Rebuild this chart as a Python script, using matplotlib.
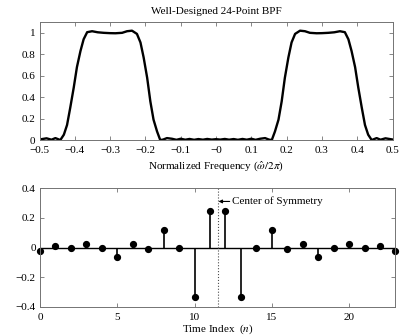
import matplotlib
matplotlib.use('Agg')
import matplotlib.pyplot as plt
from matplotlib.ticker import FuncFormatter
import numpy as np

plt.rcParams['font.family'] = ['Liberation Serif', 'DejaVu Serif']
plt.rcParams['mathtext.fontset'] = 'stix'
plt.rcParams['font.size'] = 8

# magnitude response (positive half; |H| is even)
freq_pos = [0.000, 0.012, 0.025, 0.037, 0.050, 0.062, 0.075, 0.087, 0.100, 0.112,
            0.125, 0.139, 0.150, 0.158, 0.167, 0.177, 0.186, 0.195, 0.205, 0.214,
            0.224, 0.238, 0.252, 0.266, 0.285, 0.300, 0.318, 0.335, 0.351, 0.365,
            0.375, 0.384, 0.394, 0.403, 0.413, 0.422, 0.431, 0.441, 0.455, 0.466,
            0.480, 0.500]
mag_pos = [0.008, 0.004, 0.010, 0.003, 0.009, 0.002, 0.010, 0.003, 0.012, 0.002,
           0.012, 0.018, 0.004, 0.000, 0.080, 0.190, 0.360, 0.580, 0.770, 0.910,
           0.990, 1.020, 1.015, 1.000, 0.996, 0.997, 1.000, 1.005, 1.015, 1.006,
           0.940, 0.830, 0.680, 0.490, 0.300, 0.140, 0.050, 0.000, 0.018, 0.003,
           0.016, 0.005]

# impulse response h[n], n = 0..23
n_idx = list(range(24))
h_vals = [-0.02, 0.01, 0.0, 0.025, 0.0, -0.065, 0.025, -0.012, 0.12, 0.0,
          -0.335, 0.245, 0.245, -0.335, 0.0, 0.12, -0.012, 0.025, -0.065, 0.0,
          0.025, 0.0, 0.01, -0.02]
center = 11.5

fmt = FuncFormatter(lambda v, p: ('%g' % round(v, 3)).replace('-', '\u2212'))

fig = plt.figure(figsize=(4.06, 3.35), dpi=100)
ax1 = fig.add_axes([0.0973, 0.582, 0.8695, 0.352])
ax2 = fig.add_axes([0.0985, 0.0836, 0.8756, 0.355])

f = np.array(freq_pos)
m = np.array(mag_pos)
ax1.plot(np.concatenate([-f[::-1], f[1:]]), np.concatenate([m[::-1], m[1:]]),
         color='black', lw=1.7)
ax1.set_xlim(-0.5, 0.5)
ax1.set_ylim(0, 1.1)
ax1.set_xticks(np.arange(-0.5, 0.51, 0.1))
ax1.set_yticks([0, 0.2, 0.4, 0.6, 0.8, 1.0])
ax1.set_title('Well-Designed 24-Point BPF', fontsize=8, pad=6)
ax1.set_xlabel(r'Normalized Frequency ($\hat{\omega}/2\pi$)', labelpad=3)

ml, sl, bl = ax2.stem(n_idx, h_vals, linefmt='k-', markerfmt='ko', basefmt='k-')
plt.setp(ml, markersize=4.2, clip_on=False)
plt.setp(sl, linewidth=1.2)
plt.setp(bl, linewidth=1.0)
ax2.axvline(center, color='0.3', ls=':', lw=0.8)
ax2.annotate('Center of Symmetry', xy=(center + 0.05, 0.31), xytext=(12.45, 0.31),
             va='center', ha='left',
             arrowprops=dict(arrowstyle='-|>', color='black', lw=0.8,
                             mutation_scale=5, shrinkA=0, shrinkB=0))
ax2.set_xlim(0, 23)
ax2.set_ylim(-0.4, 0.4)
ax2.set_xticks([0, 5, 10, 15, 20])
ax2.set_yticks([-0.4, -0.2, 0, 0.2, 0.4])
ax2.set_xlabel('Time Index  ($n$)', labelpad=1)

for ax in (ax1, ax2):
    ax.xaxis.set_major_formatter(fmt)
    ax.yaxis.set_major_formatter(fmt)
    ax.tick_params(direction='in', top=True, right=True, length=3,
                   width=0.6, color='0.45')
    ax.tick_params(axis='x', pad=4)
    ax.tick_params(axis='y', pad=3)
    for s in ax.spines.values():
        s.set_color('0.45')
        s.set_linewidth(0.7)

fig.savefig('out.png', dpi=100)
